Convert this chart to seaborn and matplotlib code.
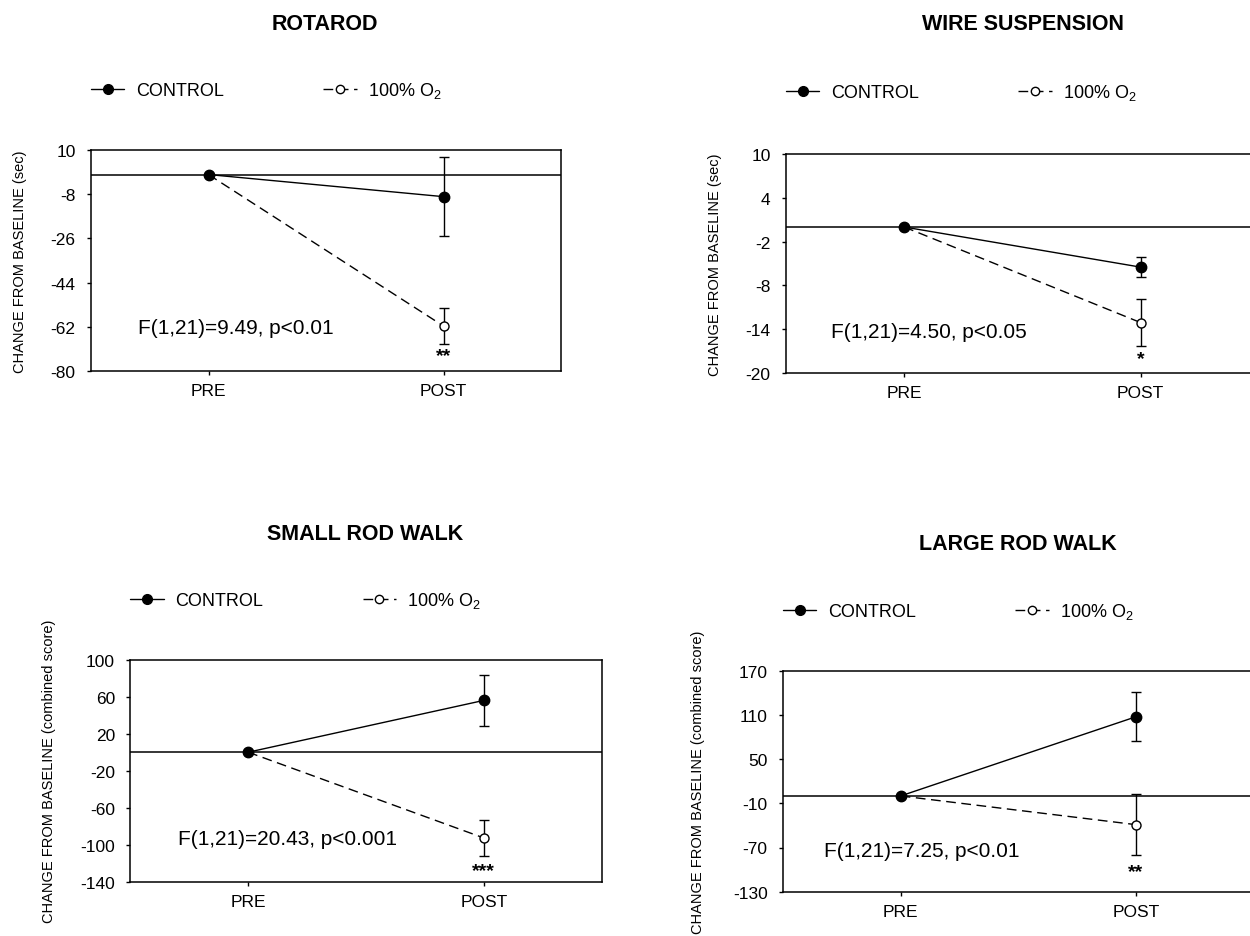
import pandas as pd
import matplotlib.pyplot as plt
import seaborn as sns
from matplotlib.lines import Line2D

# data (PRE is the baseline, so always 0)
periods = ["PRE", "POST"]
groups = ["CONTROL", "100% O$_2$"]
titles = ["ROTAROD", "WIRE SUSPENSION", "SMALL ROD WALK", "LARGE ROD WALK"]
ylabels = ["CHANGE FROM BASELINE (sec)", "CHANGE FROM BASELINE (sec)",
           "CHANGE FROM BASELINE (combined score)", "CHANGE FROM BASELINE (combined score)"]
control_mean = [[0, -9.0], [0, -5.5], [0, 56.0], [0, 107.5]]
control_sem = [[0, 16.2], [0, 1.4], [0, 27.4], [0, 33.3]]
o2_mean = [[0, -61.7], [0, -13.1], [0, -92.7], [0, -39.0]]
o2_sem = [[0, 7.3], [0, 3.2], [0, 19.8], [0, 41.7]]
yticks = [[10, -8, -26, -44, -62, -80],
          [10, 4, -2, -8, -14, -20],
          [100, 60, 20, -20, -60, -100, -140],
          [170, 110, 50, -10, -70, -130]]
stats = ["F(1,21)=9.49, p<0.01", "F(1,21)=4.50, p<0.05",
         "F(1,21)=20.43, p<0.001", "F(1,21)=7.25, p<0.01"]
stars = ["**", "*", "***", "**"]

# layout in pixels of the 1250x937 picture
W, H = 1250, 937
boxes = [(91, 561, 151, 372), (786, 1259, 155, 374),
         (130.4, 601.6, 660.7, 882.7), (783, 1253.7, 671.7, 892.7)]
title_pos = [(325, 24), (1023, 25), (365.5, 535), (1017.5, 545)]
legend_y = [1.271, 1.283, 1.269, 1.270]
ylabel_x = [-0.151, -0.151, -0.173, -0.181]
stats_pos = [(-0.30, 0.195), (-0.31, 0.189), (-0.30, 0.195), (-0.325, 0.186)]
star_y = [0.069, 0.064, 0.05, 0.09]

sns.set_style("ticks")
plt.rcParams["font.family"] = ["Liberation Sans", "DejaVu Sans"]
plt.rcParams["mathtext.default"] = "regular"
plt.rcParams["axes.unicode_minus"] = False
for key in ["text.color", "axes.labelcolor", "xtick.color", "ytick.color"]:
    plt.rcParams[key] = "black"

fig = plt.figure(figsize=(12.5, 9.37), dpi=100)

dash = (0, (7, 4))
handles = [
    Line2D([], [], color="black", lw=1, marker="o", ms=7, mfc="black", mec="black"),
    Line2D([], [], color="black", lw=1, ls=dash, marker="o", ms=6, mfc="white", mec="black"),
]

for i in range(4):
    left, right, top, bottom = boxes[i]
    ax = fig.add_axes([left / W, 1 - bottom / H, (right - left) / W, (bottom - top) / H])

    rows = []
    for g, means in zip(groups, [control_mean[i], o2_mean[i]]):
        for xi, v in enumerate(means):
            rows.append({"x": xi, "value": v, "group": g})
    df = pd.DataFrame(rows)

    ax.axhline(0, color="black", lw=1.1, zorder=1)

    # error bars only where there is one (POST)
    for means, sems in [(control_mean[i], control_sem[i]), (o2_mean[i], o2_sem[i])]:
        xs = [k for k in range(len(means)) if sems[k] > 0]
        ax.errorbar(xs, [means[k] for k in xs], yerr=[sems[k] for k in xs], fmt="none",
                    ecolor="black", elinewidth=1, capsize=3.5, capthick=1, zorder=2)

    # O2 first so the filled control point sits on top at PRE
    sns.lineplot(data=df[df["group"] == groups[1]], x="x", y="value", ax=ax,
                 color="black", lw=1, linestyle=dash, marker="o", markersize=6.5,
                 markerfacecolor="white", markeredgecolor="black", markeredgewidth=1,
                 errorbar=None, zorder=3)
    sns.lineplot(data=df[df["group"] == groups[0]], x="x", y="value", ax=ax,
                 color="black", lw=1, marker="o", markersize=7.5, markerfacecolor="black",
                 markeredgecolor="black", markeredgewidth=1, errorbar=None, zorder=4)

    ax.set_xlim(-0.5, 1.5)
    ax.set_ylim(min(yticks[i]), max(yticks[i]))
    ax.set_xticks(range(len(periods)))
    ax.set_xticklabels(periods)
    ax.set_yticks(yticks[i])
    ax.set_xlabel("")
    ax.set_ylabel(ylabels[i], fontsize=10.5)
    ax.yaxis.set_label_coords(ylabel_x[i], 0.5)
    ax.yaxis.label.set_va("center")
    ax.tick_params(axis="both", labelsize=12.5, length=3, width=1, direction="out", color="black")
    ax.tick_params(axis="x", pad=5.5)
    ax.tick_params(axis="y", pad=8)
    for sp in ax.spines.values():
        sp.set_visible(True)
        sp.set_linewidth(1.1)
        sp.set_color("black")

    ax.text(stats_pos[i][0], stats_pos[i][1], stats[i], transform=ax.get_xaxis_transform(),
            ha="left", va="center", fontsize=15)
    ax.text(1, star_y[i], stars[i], transform=ax.get_xaxis_transform(),
            ha="center", va="center", fontsize=14, fontweight="bold")

    ax.legend(handles, groups, ncol=2, frameon=False, loc="center left",
              bbox_to_anchor=(0, legend_y[i]), handlelength=1.85, handletextpad=0.64,
              columnspacing=5.5, borderpad=0, borderaxespad=0, fontsize=13)

    fig.text(title_pos[i][0] / W, 1 - title_pos[i][1] / H, titles[i],
             ha="center", va="center", fontsize=15.5, fontweight="bold")

fig.savefig("out.png", dpi=100, facecolor="white")
